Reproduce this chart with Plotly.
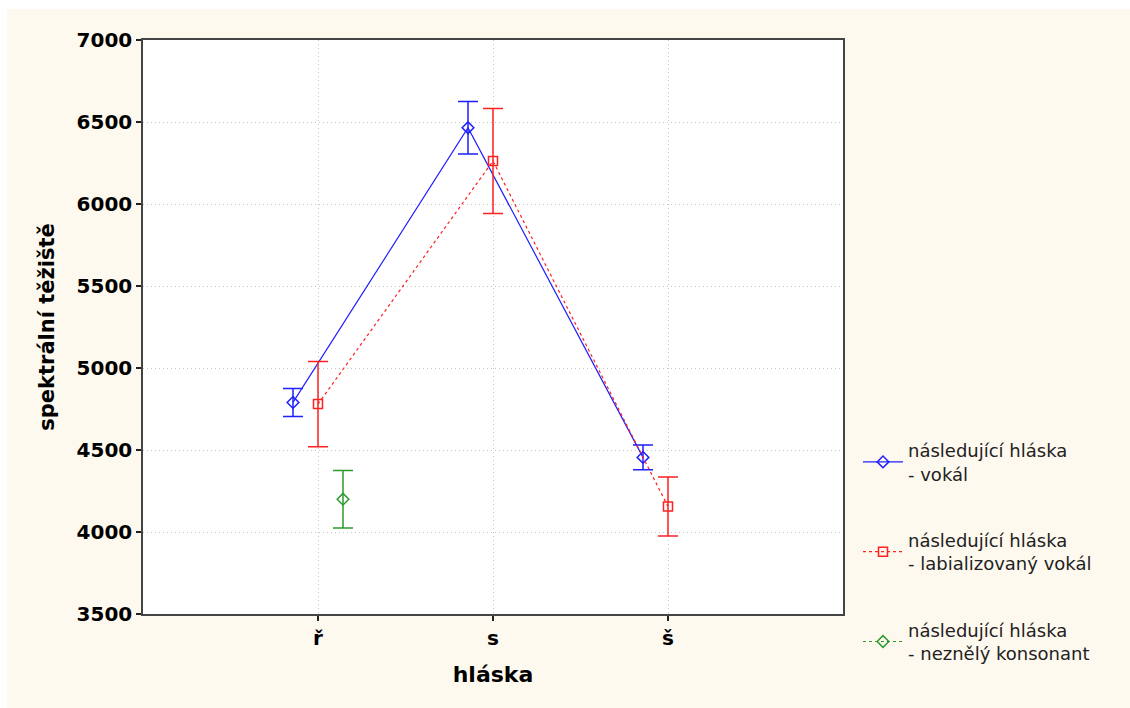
import plotly.graph_objects as go

categories = ["ř", "s", "š"]
series_names = ["následující hláska<br>- vokál",
                "následující hláska<br>- labializovaný vokál",
                "následující hláska<br>- neznělý konsonant"]

vokal_mean = [4790, 6465, 4455]
vokal_err = [85, 160, 75]
labial_mean = [4780, 6262, 4155]
labial_err = [260, 320, 180]
konsonant_cats = ["ř"]
konsonant_mean = [4200]
konsonant_err = [175]

y_ticks = [3500, 4000, 4500, 5000, 5500, 6000, 6500, 7000]

W, H = 1130, 708
ML, MR, MT, MB = 143, 287, 40, 94
PW, PH = W - ML - MR, H - MT - MB

idx = {c: i + 1 for i, c in enumerate(categories)}
off = 1 / 7

fig = go.Figure()

fig.add_trace(go.Scatter(
    x=[idx[c] - off for c in categories], y=vokal_mean,
    mode="lines+markers", name=series_names[0], legendgroup="a",
    line=dict(color="#1f1fff", width=1.2),
    marker=dict(symbol="diamond-open", size=9, color="#1f1fff", line=dict(width=1.5)),
    error_y=dict(type="data", array=vokal_err, color="#1f1fff", thickness=1.5, width=10),
))
fig.add_trace(go.Scatter(
    x=[idx[c] for c in categories], y=labial_mean,
    mode="lines+markers", name=series_names[1], legendgroup="b",
    line=dict(color="#ff2020", width=1.2, dash="dot"),
    marker=dict(symbol="square-open", size=9, color="#ff2020", line=dict(width=1.5)),
    error_y=dict(type="data", array=labial_err, color="#ff2020", thickness=1.5, width=10),
))
fig.add_trace(go.Scatter(
    x=[idx[c] + off for c in konsonant_cats], y=konsonant_mean,
    mode="lines+markers", name=series_names[2], legendgroup="c",
    line=dict(color="#2e9a2e", width=1.2, dash="dot"),
    marker=dict(symbol="diamond-open", size=9, color="#2e9a2e", line=dict(width=1.5)),
    error_y=dict(type="data", array=konsonant_err, color="#2e9a2e", thickness=1.5, width=10),
))

axis_common = dict(
    showline=True, linecolor="#444444", linewidth=1.5, mirror=True,
    ticks="outside", ticklen=5, tickcolor="#222222", tickwidth=1.5,
    showgrid=True, gridcolor="#c4c4c4", griddash="1px,3px", gridwidth=1,
    zeroline=False,
    tickfont=dict(family="DejaVu Sans", size=20, color="#000000", weight="bold"),
)

fig.update_layout(
    width=W, height=H,
    margin=dict(l=ML, r=MR, t=MT, b=MB),
    paper_bgcolor="white", plot_bgcolor="white",
    showlegend=True,
    legend=dict(
        x=(858 - ML) / PW, y=(H - MB - 432) / PH,
        xanchor="left", yanchor="top",
        bgcolor="rgba(0,0,0,0)", borderwidth=0,
        font=dict(family="DejaVu Sans", size=18, color="#222222"),
        tracegroupgap=40, traceorder="grouped",
        itemwidth=40,
    ),
    xaxis=dict(range=[0, 4], tickvals=[1, 2, 3], ticktext=categories,
               title=dict(text="hláska", font=dict(family="DejaVu Sans", size=22, color="#000", weight="bold"), standoff=18),
               **axis_common),
    yaxis=dict(range=[3500, 7000], tickvals=y_ticks, ticktext=[str(v) for v in y_ticks],
               title=dict(text="spektrální těžiště", font=dict(family="DejaVu Sans", size=21, color="#000", weight="bold"), standoff=16),
               **axis_common),
    shapes=[
        dict(type="rect", xref="paper", yref="paper", layer="below",
             x0=(7 - ML) / PW, x1=(W - ML) / PW, y0=-MB / PH, y1=1 + (MT - 9) / PH,
             fillcolor="#fef9ee", line=dict(width=0)),
        dict(type="rect", xref="paper", yref="paper", layer="below",
             x0=0, x1=1, y0=0, y1=1, fillcolor="white", line=dict(width=0)),
    ],
)

fig.write_html("out.html")
